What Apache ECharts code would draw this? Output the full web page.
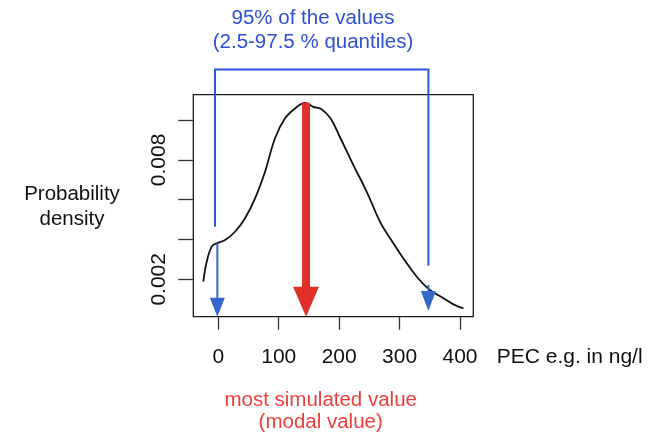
<!DOCTYPE html>
<html>
<head>
<meta charset="utf-8">
<script src="https://cdn.jsdelivr.net/npm/echarts@6/dist/echarts.min.js"></script>
<style>html,body{margin:0;padding:0;background:#fff;}#chart{width:656px;height:438px;}</style>
</head>
<body>
<div id="chart"></div>
<script>
// Density curve (PEC in ng/l, probability density)
const densityX = [-24.8, -19.2, -10.9, -2.6, 11.1, 27.6, 44.2, 60.8, 77.3, 93.9, 110.4, 127, 143.5, 157.3, 169.7, 185.6, 202.2, 223.5, 245.7, 267.7, 284.3, 306.3, 328.5, 350.2, 372.5, 389.1, 405.6];
const densityY = [0.00188, 0.00288, 0.00364, 0.00381, 0.00397, 0.00439, 0.00507, 0.00607, 0.00741, 0.00909, 0.01009, 0.01059, 0.01087, 0.01067, 0.01057, 0.01009, 0.00909, 0.00774, 0.00640, 0.00489, 0.00406, 0.00305, 0.00213, 0.00146, 0.00105, 0.00074, 0.00054];

// Axis ticks
const xTicks = [0, 100, 200, 300, 400];
const yTicks = [0.002, 0.004, 0.006, 0.008, 0.010];
const yTickLabels = [0.002, 0.008];

// Annotations (data space)
const quantileLow = -1.6;     // 2.5 % quantile
const quantileHigh = 347.7;   // 97.5 % quantile
const bracketLowX = -5.5;
const modalValue = 145.2;
const modalDensity = 0.01087;
const lowArrowTop = 0.00381;
const highArrowTop = 0.00171;
const bracketTopY = 0.01255;
const bracketLowBottom = 0.00464;
const bracketHighBottom = 0.00268;
const lowArrowTip = 0.00012;
const highArrowTip = 0.00041;
const modalArrowTip = 0.00012;

const xMin = -41.4, xMax = 422, yMin = 0.00012, yMax = 0.01128;

const FONT = "'Liberation Sans', Arial, Helvetica, sans-serif";
const BLUE_LINE = '#2f55de';
const BLUE_HEAD = '#3467c9';
const BLUE_TEXT = '#2e4fd8';
const RED = '#e0302a';
const RED_TEXT = '#ef3e3a';

const chart = echarts.init(document.getElementById('chart'), null, {renderer: 'canvas'});

function arrow(api, x, yTop, yTip, color, shaftW, headW, headH) {
  const top = api.coord([x, yTop]);
  const tip = api.coord([x, yTip]);
  return [
    {type: 'line', shape: {x1: top[0], y1: top[1], x2: tip[0], y2: tip[1] - headH + 1},
     style: {stroke: color, lineWidth: shaftW}},
    {type: 'polygon', shape: {points: [[tip[0], tip[1]], [tip[0] - headW / 2, tip[1] - headH], [tip[0] + headW / 2, tip[1] - headH]]},
     style: {fill: color}}
  ];
}

const option = {
  animation: false,
  backgroundColor: '#fff',
  grid: {left: 193.3, right: 182.7, top: 94.7, bottom: 121.3, show: true, borderColor: '#1a1a1a', borderWidth: 1.3, backgroundColor: 'transparent'},
  xAxis: {
    type: 'value', min: xMin, max: xMax,
    axisLine: {show: false, onZero: false},
    splitLine: {show: false},
    axisTick: {show: true, length: 13, customValues: xTicks, lineStyle: {color: '#333', width: 1.3}},
    axisLabel: {customValues: xTicks, margin: 30, fontSize: 21, fontFamily: FONT, color: '#111'}
  },
  yAxis: {
    type: 'value', min: yMin, max: yMax,
    axisLine: {show: false, onZero: false},
    splitLine: {show: false},
    axisTick: {show: true, length: 15, customValues: yTicks, lineStyle: {color: '#333', width: 1.3}},
    axisLabel: {customValues: yTickLabels, rotate: 90, margin: 24, fontSize: 21, fontFamily: FONT, color: '#111',
      formatter: v => v.toFixed(3)}
  },
  series: [
    {
      type: 'line',
      data: densityX.map((x, i) => [x, densityY[i]]),
      showSymbol: false,
      smooth: 0.4,
      lineStyle: {color: '#111', width: 1.8},
      z: 3
    },
    {
      type: 'custom',
      clip: false,
      z: 5,
      data: [[0]],
      renderItem: function (params, api) {
        const children = [];
        const a = api.coord([bracketLowX, bracketLowBottom]);
        const b = api.coord([bracketLowX, bracketTopY]);
        const c = api.coord([quantileHigh, bracketTopY]);
        const d = api.coord([quantileHigh, bracketHighBottom]);
        children.push({type: 'polyline', shape: {points: [a, b, c, d]}, style: {stroke: BLUE_LINE, lineWidth: 2, fill: null}});
        children.push(...arrow(api, quantileLow, lowArrowTop, lowArrowTip, BLUE_HEAD, 2, 15, 19));
        children.push(...arrow(api, quantileHigh, highArrowTop, highArrowTip, BLUE_HEAD, 2, 15, 20));
        children.push(...arrow(api, modalValue, modalDensity, modalArrowTip, RED, 8, 26, 30));
        return {type: 'group', children: children};
      }
    }
  ],
  graphic: [
    {type: 'text', x: 313, y: 18.7, style: {text: '95% of the values', font: '20.5px ' + FONT, fill: BLUE_TEXT, align: 'center', verticalAlign: 'middle'}},
    {type: 'text', x: 313, y: 42, style: {text: '(2.5-97.5 % quantiles)', font: '20.5px ' + FONT, fill: BLUE_TEXT, align: 'center', verticalAlign: 'middle'}},
    {type: 'text', x: 72, y: 194.4, style: {text: 'Probability', font: '20.5px ' + FONT, fill: '#111', align: 'center', verticalAlign: 'middle'}},
    {type: 'text', x: 72, y: 219.4, style: {text: 'density', font: '20.5px ' + FONT, fill: '#111', align: 'center', verticalAlign: 'middle'}},
    {type: 'text', x: 496.7, y: 357.7, style: {text: 'PEC e.g. in ng/l', font: '21px ' + FONT, fill: '#111', align: 'left', verticalAlign: 'middle'}},
    {type: 'text', x: 320.7, y: 400, style: {text: 'most simulated value', font: '20.5px ' + FONT, fill: RED_TEXT, align: 'center', verticalAlign: 'middle'}},
    {type: 'text', x: 320.7, y: 422.7, style: {text: '(modal value)', font: '20.5px ' + FONT, fill: RED_TEXT, align: 'center', verticalAlign: 'middle'}}
  ]
};
chart.setOption(option);
</script>
</body>
</html>
